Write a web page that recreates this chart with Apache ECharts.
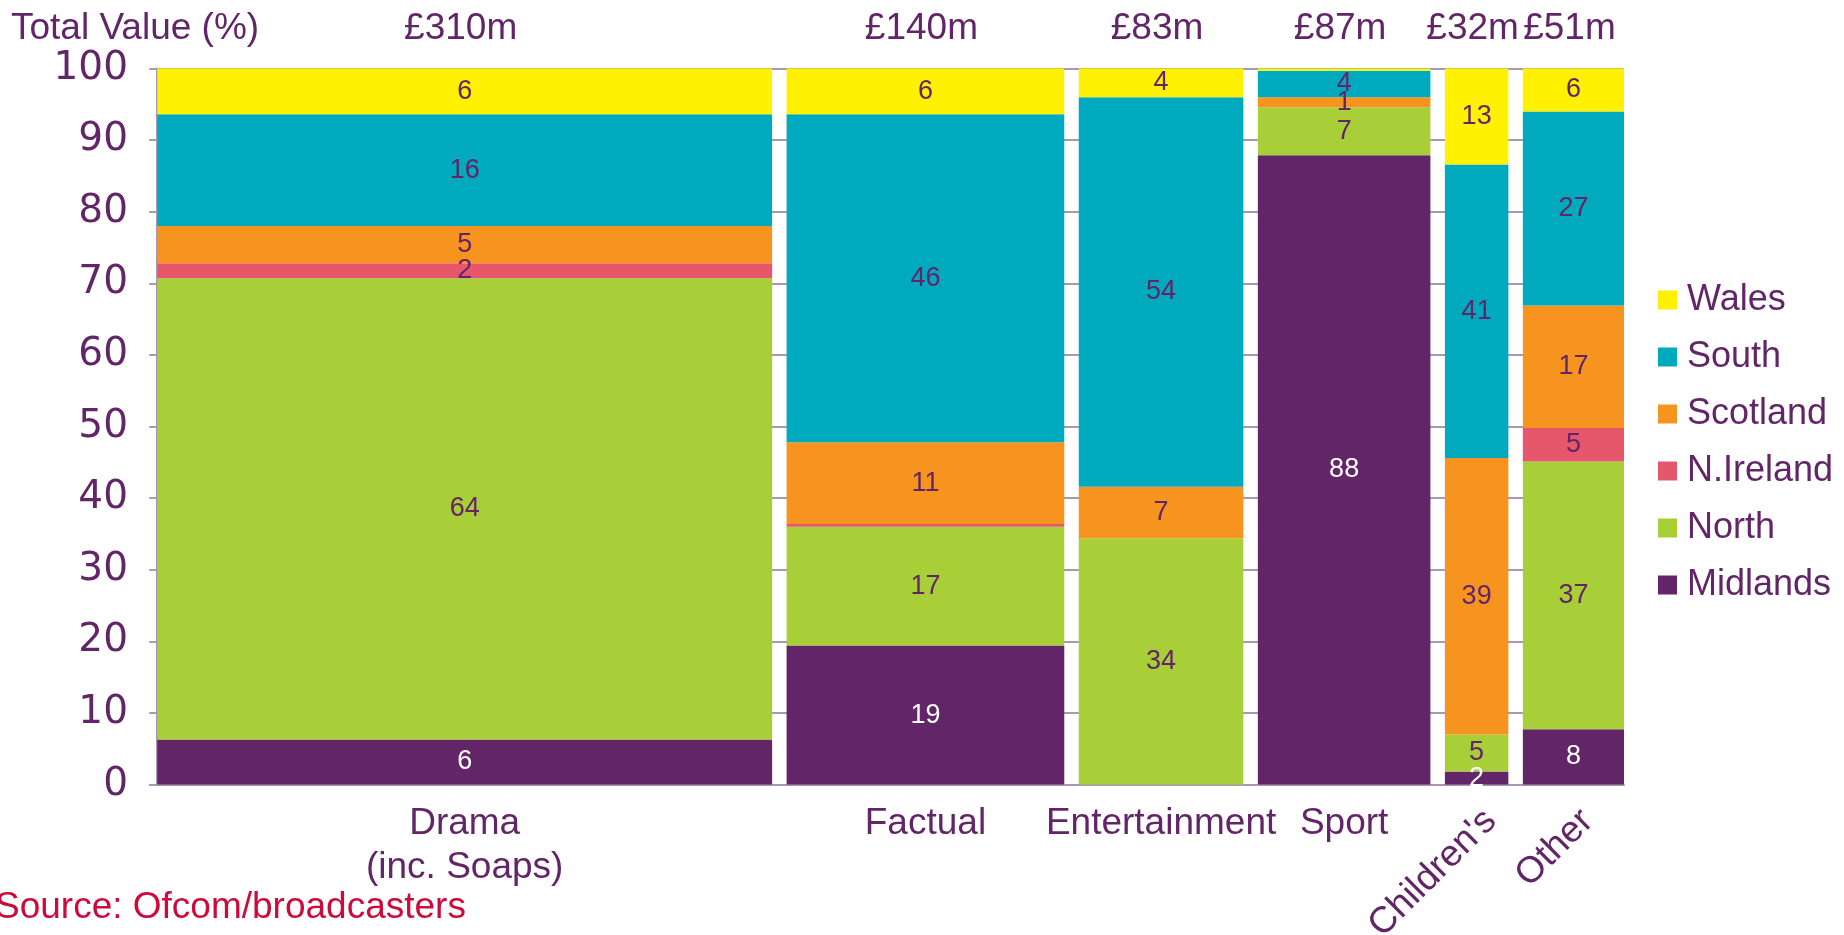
<!DOCTYPE html>
<html>
<head>
<meta charset="utf-8">
<script src="https://cdn.jsdelivr.net/npm/echarts@6/dist/echarts.min.js"></script>
<style>
  html, body { margin: 0; padding: 0; background: #ffffff; }
  #chart { width: 1844px; height: 935px; }
</style>
</head>
<body>
<div id="chart"></div>
<script>
// Genre columns: width = total value (£m), height = regional share (%)
const categories = ['Drama\n(inc. Soaps)', 'Factual', 'Entertainment', 'Sport', "Children's", 'Other'];
const totalValues = [310, 140, 83, 87, 32, 51];

// Regional shares per genre (%), bottom of the stack first
const midlands  = [6.3, 19.4, 0,    87.9, 1.8,  7.7];
const north     = [64.4, 16.6, 34.4, 6.7, 5.2,  37.4];
const nIreland  = [2.1, 0.4,  0,    0,    0,    4.7];
const scotland  = [5.2, 11.4, 7.2,  1.4,  38.6, 17.1];
const south     = [15.6, 45.8, 54.4, 3.7, 41.0, 27.1];
const wales     = [6.4, 6.4,  4.0,  0.3,  13.4, 6.0];

const regionNames = ['Midlands', 'North', 'N.Ireland', 'Scotland', 'South', 'Wales'];
const regionValues = [midlands, north, nIreland, scotland, south, wales];
const legendOrder = ['Wales', 'South', 'Scotland', 'N.Ireland', 'North', 'Midlands'];

const FONT = '"Liberation Sans", Arial, Helvetica, sans-serif';
const TICK_FONT = '"DejaVu Sans", "Liberation Sans", Arial, sans-serif';
const PURPLE = '#622567';
const AXIS = '#A898B2';
const COLORS = {
  'Midlands': '#622567',
  'North': '#A9CF38',
  'N.Ireland': '#E6576B',
  'Scotland': '#F7941F',
  'South': '#00AABE',
  'Wales': '#FFF100'
};

// Horizontal layout in £m units: columns separated by a fixed gap
const GAP = 7.3;
const starts = [];
let acc = 0;
totalValues.forEach(function (v) { starts.push(acc); acc += v + GAP; });
const xMax = acc - GAP;

function segmentSeries(name, idx) {
  const values = regionValues[idx];
  const labelColor = name === 'Midlands' ? '#ffffff' : PURPLE;
  const data = values.map(function (v, i) {
    let base = 0;
    for (let k = 0; k < idx; k++) base += regionValues[k][i];
    return [starts[i], starts[i] + totalValues[i], base, base + v, v];
  });
  return {
    type: 'custom',
    name: name,
    itemStyle: { color: COLORS[name] },
    encode: { x: [0, 1], y: [2, 3] },
    data: data,
    renderItem: function (params, api) {
      const v = api.value(4);
      if (!(v > 0)) return null;
      const p0 = api.coord([api.value(0), api.value(3)]);
      const p1 = api.coord([api.value(1), api.value(2)]);
      const el = {
        type: 'rect',
        shape: { x: p0[0], y: p0[1], width: p1[0] - p0[0], height: p1[1] - p0[1] },
        style: { fill: COLORS[name] }
      };
      const shown = Math.round(v);
      if (shown >= 1) {
        el.textContent = {
          style: { text: String(shown), fill: labelColor, fontSize: 27, fontFamily: FONT }
        };
        el.textConfig = { position: 'inside' };
      }
      return el;
    }
  };
}

const series = regionNames.map(function (n, i) { return segmentSeries(n, i); });

// Column totals above the plot and genre names below it
series.push({
  type: 'custom',
  name: 'columnLabels',
  silent: true,
  encode: { x: 0, y: 1 },
  data: totalValues.map(function (w, i) { return [starts[i] + w / 2, 0, w]; }),
  renderItem: function (params, api) {
    const i = params.dataIndex;
    const cx = api.value(0);
    const w = api.value(2);
    const top = api.coord([cx, 100]);
    const bottom = api.coord([cx, 0]);
    const base = { fontSize: 37, fontFamily: FONT, fill: PURPLE };
    const children = [{
      type: 'text', x: top[0] - 4, y: top[1] - 40,
      style: Object.assign({ text: '£' + w + 'm', align: 'center', verticalAlign: 'middle' }, base)
    }];
    if (w < 60) {
      children.push({
        type: 'text', x: bottom[0] + 14, y: bottom[1] + 31, rotation: Math.PI / 4,
        style: Object.assign({ text: categories[i], align: 'right', verticalAlign: 'middle' }, base)
      });
    } else {
      children.push({
        type: 'text', x: bottom[0], y: bottom[1] + 17,
        style: Object.assign({ text: categories[i], align: 'center', verticalAlign: 'top', lineHeight: 44 }, base)
      });
    }
    return { type: 'group', children: children };
  }
});

const chart = echarts.init(document.getElementById('chart'));
chart.setOption({
  animation: false,
  backgroundColor: '#ffffff',
  title: [
    { text: 'Total Value (%)', left: 11, top: 10, padding: 0,
      textStyle: { fontSize: 37, fontWeight: 'normal', color: PURPLE, fontFamily: FONT } },
    { text: 'Source: Ofcom/broadcasters', left: -5, top: 889, padding: 0,
      textStyle: { fontSize: 37, fontWeight: 'normal', color: '#CC0A3C', fontFamily: FONT } }
  ],
  legend: {
    orient: 'vertical', left: 1653, top: 277,
    itemWidth: 19, itemHeight: 19, itemGap: 21,
    icon: 'rect', selectedMode: false,
    data: legendOrder,
    textStyle: { fontSize: 36, color: PURPLE, fontFamily: FONT, padding: [0, 0, 0, 5] }
  },
  grid: { left: 150, right: 220, top: 68.5, bottom: 150.5, containLabel: false },
  xAxis: {
    type: 'value', min: -GAP / 2, max: xMax,
    axisLine: { show: true, lineStyle: { color: AXIS, width: 2 } },
    axisTick: { show: false }, axisLabel: { show: false }, splitLine: { show: false }
  },
  yAxis: {
    type: 'value', min: 0, max: 100, interval: 10,
    axisLine: { show: true, lineStyle: { color: AXIS, width: 2 } },
    axisTick: { show: true, length: 8, lineStyle: { color: AXIS, width: 2 } },
    axisLabel: { fontSize: 39, color: PURPLE, fontFamily: TICK_FONT, margin: 22, padding: [14, 0, 0, 0] },
    splitLine: { show: true, lineStyle: { color: AXIS, width: 2 } }
  },
  series: series
});
</script>
</body>
</html>
